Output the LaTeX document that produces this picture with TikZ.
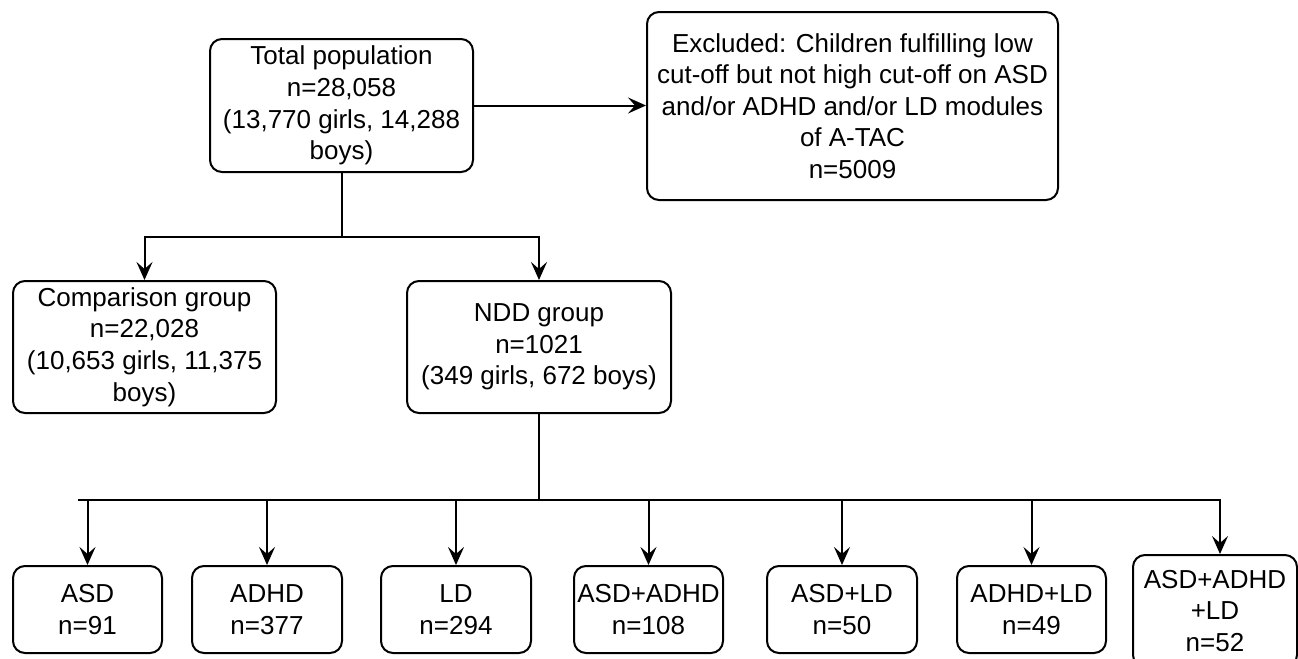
\documentclass[tikz,border=0pt]{standalone}
\usepackage{fontspec}
\setmainfont{Liberation Sans}
\usetikzlibrary{arrows.meta}

\begin{document}
\begin{tikzpicture}[x=0.5pt, y=-0.5pt, >={Stealth[length=9pt, width=8pt, inset=3.5pt]},
    box/.style={draw, line width=1pt, rounded corners=6pt, align=center, inner sep=0pt,
      font=\fontsize{13}{15.8}\selectfont},
    flow/.style={->, line width=1pt}]
          \useasboundingbox (0,0) rectangle (1298,659);

          % top row: population and exclusion
          \node[box, minimum width=131.5pt, minimum height=66.5pt] (total) at (341.5,105.5)
            {Total population\\n=28,058\\(13,770 girls, 14,288\\boys)};
          \node[box, minimum width=205.5pt, minimum height=94pt] (excl) at (852.5,106)
            {Excluded: Children fulfilling low\\cut-off but not high cut-off on ASD\\and/or ADHD and/or LD modules\\of A-TAC\\n=5009};

          % middle row: groups
          \node[box, minimum width=131.5pt, minimum height=66pt] (comp) at (144.5,347)
            {Comparison group\\n=22,028\\(10,653 girls, 11,375\\boys)};
          \node[box, minimum width=132pt, minimum height=66pt] (ndd) at (539,347)
            {NDD group\\n=1021\\(349 girls, 672 boys)};

          % bottom row: NDD subgroups
          \node[box, minimum width=74.5pt, minimum height=43.5pt] (asd) at (87.5,609.5) {ASD\\n=91};
          \node[box, minimum width=75pt, minimum height=43.5pt] (adhd) at (267,609.5) {ADHD\\n=377};
          \node[box, minimum width=75pt, minimum height=43.5pt] (ld) at (456,609.5) {LD\\n=294};
          \node[box, minimum width=74.5pt, minimum height=43.5pt] (asdadhd) at (648.5,609.5) {ASD+ADHD\\n=108};
          \node[box, minimum width=75pt, minimum height=43.5pt] (asdld) at (842,609.5) {ASD+LD\\n=50};
          \node[box, minimum width=74.5pt, minimum height=43.5pt] (adhdld) at (1031.5,609.5) {ADHD+LD\\n=49};
          \node[box, minimum width=82pt, minimum height=56pt] (all) at (1215,611) {ASD+ADHD\\+LD\\n=52};

          % exclusion arrow
          \draw[flow] (total.east) -- (total.east -| excl.west);

          % split into comparison and NDD group
          \coordinate (split1) at (341.5,237);
          \draw[line width=1pt] (total.south) -- (split1);
          \draw[flow] (split1) -| (comp.north);
          \draw[flow] (split1) -| (ndd.north);

          % split into subgroups
          \coordinate (split2) at (539,500);
          \coordinate (busend) at (78,500);
          \draw[line width=1pt] (ndd.south) -- (split2);
          \draw[line width=1pt] (busend) -- (split2);
          \draw[flow] (split2) -| (asd.north);
          \draw[flow] (split2) -| (adhd.north);
          \draw[flow] (split2) -| (ld.north);
          \draw[flow] (split2) -| (asdadhd.north);
          \draw[flow] (split2) -| (asdld.north);
          \draw[flow] (split2) -| (adhdld.north);
          \draw[flow] (split2) -| ([xshift=2.5pt]all.north);
        \end{tikzpicture}
\end{document}
